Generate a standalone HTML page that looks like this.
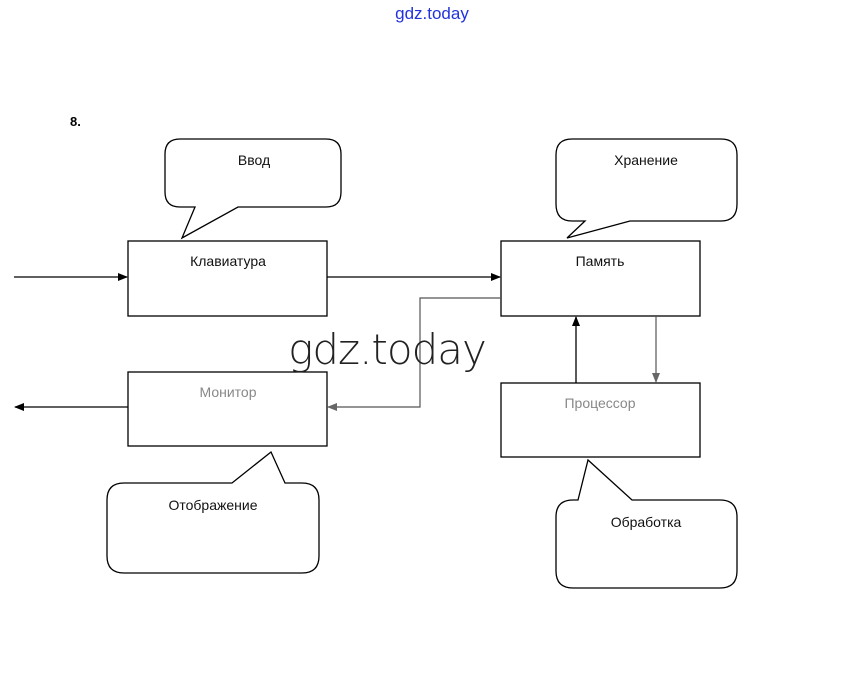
<!DOCTYPE html>
<html><head><meta charset="utf-8"><style>
body{margin:0;background:#fff;}
svg{display:block;}
text{font-family:"Liberation Sans","DejaVu Sans",sans-serif;}
</style></head><body>
<svg width="863" height="694" viewBox="0 0 863 694" xmlns="http://www.w3.org/2000/svg">
<defs>
<marker id="a" markerWidth="10" markerHeight="8" refX="9" refY="4" orient="auto" markerUnits="userSpaceOnUse"><path d="M0,0 L10,4 L0,8 Z" fill="#000"/></marker>
<marker id="g" markerWidth="10" markerHeight="8" refX="9" refY="4" orient="auto" markerUnits="userSpaceOnUse"><path d="M0,0 L10,4 L0,8 Z" fill="#666"/></marker>
</defs>
<text x="432" y="19" font-size="17" fill="#2233dd" text-anchor="middle">gdz.today</text>
<text x="70" y="126" font-size="13" font-weight="bold">8.</text>
<g fill="none" stroke="#000" stroke-width="1.3">
<path d="M180,139 H326 Q341,139 341,154 V192 Q341,207 326,207 H238 L182,238 L195,207 H180 Q165,207 165,192 V154 Q165,139 180,139 Z"/>
<path d="M572,139 H721 Q737,139 737,155 V204 Q737,221 721,221 H630 L567,238 L585,221 H572 Q556,221 556,204 V155 Q556,139 572,139 Z"/>
<path d="M124,483 H232 L271,452 L285,483 H302 Q319,483 319,500 V556 Q319,573 302,573 H124 Q107,573 107,556 V500 Q107,483 124,483 Z"/>
<path d="M573,500 H578 L588,460 L632,500 H720 Q737,500 737,517 V571 Q737,588 720,588 H573 Q556,588 556,571 V517 Q556,500 573,500 Z"/>
<rect x="128" y="241" width="199" height="75"/>
<rect x="501" y="241" width="199" height="75"/>
<rect x="128" y="372" width="199" height="74"/>
<rect x="501" y="383" width="199" height="74"/>
<line x1="14" y1="277" x2="127" y2="277" marker-end="url(#a)"/>
<line x1="327" y1="277" x2="500" y2="277" marker-end="url(#a)"/>
<line x1="128" y1="407" x2="15" y2="407" marker-end="url(#a)"/>
<line x1="576" y1="383" x2="576" y2="317" marker-end="url(#a)"/>
</g>
<g fill="none" stroke="#555" stroke-width="1.2">
<polyline points="501,298 420,298 420,407 328,407" marker-end="url(#g)"/>
<line x1="656" y1="316" x2="656" y2="382" marker-end="url(#g)"/>
</g>
<g font-size="14" text-anchor="middle" fill="#111">
<text x="254" y="165">Ввод</text>
<text x="646" y="165">Хранение</text>
<text x="228" y="266">Клавиатура</text>
<text x="600" y="266">Память</text>
<text x="228" y="397" fill="#888">Монитор</text>
<text x="600" y="408" fill="#888">Процессор</text>
<text x="213" y="510">Отображение</text>
<text x="646" y="527">Обработка</text>
</g>
<text x="387" y="364" font-size="42" font-weight="300" fill="#222" text-anchor="middle" style="font-family:'DejaVu Sans','Liberation Sans',sans-serif;letter-spacing:-1px">gdz.today</text>
</svg>
</body></html>
